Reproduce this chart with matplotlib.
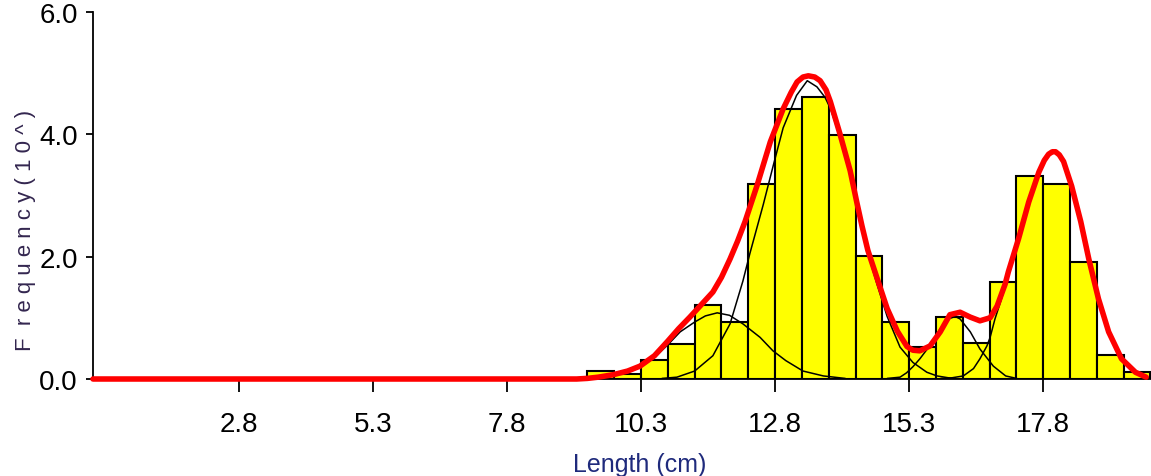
import matplotlib
matplotlib.use("Agg")
import matplotlib.pyplot as plt

# ---- data ----
bin_left = [9.3, 9.8, 10.3, 10.8, 11.3, 11.8, 12.3, 12.8, 13.3, 13.8, 14.3,
            14.8, 15.3, 15.8, 16.3, 16.8, 17.3, 17.8, 18.3, 18.8, 19.3]
bin_height = [0.13, 0.08, 0.31, 0.57, 1.21, 0.93, 3.19, 4.41, 4.60, 3.99, 2.01,
              0.93, 0.52, 1.02, 0.59, 1.59, 3.32, 3.19, 1.91, 0.40, 0.12]
bin_width = 0.5

# fitted total (red)
red_x = [0.08, 9.1, 9.3, 9.5, 9.78, 10.05, 10.28, 10.55, 10.79, 11.0, 11.21,
         11.42, 11.64, 11.8, 11.96, 12.1, 12.24, 12.46, 12.71, 12.95, 13.1,
         13.21, 13.32, 13.42, 13.54, 13.64, 13.75, 13.83, 14.01, 14.2, 14.32,
         14.42, 14.53, 14.7, 14.89, 15.08, 15.26, 15.37, 15.5, 15.69, 15.88,
         16.06, 16.25, 16.44, 16.62, 16.81, 16.94, 17.09, 17.15, 17.34, 17.53,
         17.72, 17.82, 17.9, 17.97, 18.03, 18.1, 18.18, 18.33, 18.5, 18.65,
         18.83, 19.02, 19.26, 19.52, 19.72]
red_y = [0.0, 0.0, 0.01, 0.03, 0.07, 0.13, 0.21, 0.38, 0.61, 0.82, 1.01,
         1.21, 1.42, 1.66, 1.96, 2.25, 2.57, 3.15, 3.87, 4.41, 4.68,
         4.85, 4.93, 4.95, 4.93, 4.87, 4.72, 4.53, 4.0, 3.4, 2.9,
         2.5, 2.1, 1.65, 1.15, 0.78, 0.53, 0.47, 0.46, 0.54, 0.77,
         1.05, 1.09, 1.01, 0.95, 1.0, 1.19, 1.55, 1.75, 2.29, 2.89,
         3.38, 3.57, 3.67, 3.71, 3.71, 3.66, 3.55, 3.15, 2.57, 1.96,
         1.31, 0.77, 0.33, 0.11, 0.03]

# component curves (black)
compA_x = [9.0, 9.3, 9.78, 10.05, 10.28, 10.55, 10.79, 11.03, 11.3, 11.5, 11.72,
           11.95, 12.2, 12.52, 12.76, 13.0, 13.32, 13.7, 14.1]
compA_y = [0.01, 0.02, 0.06, 0.11, 0.19, 0.35, 0.55, 0.77, 0.93, 1.03, 1.08,
           1.04, 0.9, 0.68, 0.46, 0.3, 0.13, 0.05, 0.01]

compB_x = [10.7, 10.97, 11.3, 11.64, 11.96, 12.08, 12.2, 12.33, 12.58, 12.77,
           12.95, 13.2, 13.4, 13.58, 13.73, 13.83, 14.01, 14.2, 14.32, 14.42,
           14.53, 14.7, 14.89, 15.13, 15.37, 15.63, 15.82, 16.1]
compB_y = [0.01, 0.03, 0.13, 0.38, 0.9, 1.25, 1.6, 2.05, 2.85, 3.5,
           4.1, 4.63, 4.87, 4.77, 4.6, 4.42, 3.95, 3.35, 2.85, 2.45,
           2.05, 1.55, 1.02, 0.52, 0.27, 0.11, 0.05, 0.01]

compC_x = [14.9, 15.13, 15.25, 15.37, 15.5, 15.69, 15.88, 16.06, 16.16, 16.25,
           16.44, 16.62, 16.87, 17.1, 17.3]
compC_y = [0.01, 0.03, 0.1, 0.2, 0.33, 0.55, 0.82, 0.99, 1.02, 0.98,
           0.77, 0.49, 0.21, 0.05, 0.01]

compD_x = [15.9, 16.1, 16.31, 16.5, 16.62, 16.75, 16.81, 16.9, 17.0, 17.09,
           17.15, 17.34, 17.53, 17.72, 17.9, 18.03, 18.18, 18.33, 18.5, 18.65,
           18.83, 19.02, 19.26, 19.52, 19.72, 19.8]
compD_y = [0.01, 0.02, 0.05, 0.17, 0.33, 0.54, 0.68, 0.98, 1.25, 1.5,
           1.68, 2.25, 2.86, 3.36, 3.66, 3.7, 3.54, 3.14, 2.56, 1.95,
           1.3, 0.76, 0.32, 0.1, 0.03, 0.02]

x_ticks = [2.8, 5.3, 7.8, 10.3, 12.8, 15.3, 17.8]
x_ticklabels = ["2.8", "5.3", "7.8", "10.3", "12.8", "15.3", "17.8"]
y_ticks = [0.0, 2.0, 4.0, 6.0]
y_ticklabels = ["0.0", "2.0", "4.0", "6.0"]

x_label = "Length (cm)"
y_label = "F  r e q u e n c y ( 1 0 ^ )"

# ---- drawing ----
plt.rcParams['font.family'] = ['Liberation Sans', 'DejaVu Sans']

W, H = 1151, 477
fig = plt.figure(figsize=(W / 100, H / 100), dpi=100)
ax = fig.add_axes([93 / W, 97 / H, (W - 93) / W, (380 - 12.5) / H])

ax.bar(bin_left, bin_height, width=bin_width, align='edge', color='#FFFF00',
       edgecolor='black', linewidth=1.5, zorder=2)

for cx, cy in [(compA_x, compA_y), (compB_x, compB_y),
               (compC_x, compC_y), (compD_x, compD_y)]:
    ax.plot(cx, cy, color='black', linewidth=1.1, zorder=3)

ax.plot(red_x, red_y, color='#FF0000', linewidth=4.0, zorder=4,
        solid_capstyle='round', solid_joinstyle='round', clip_on=False)

ax.set_xlim(0.08, 19.81)
ax.set_ylim(0, 6.0)
ax.set_xticks(x_ticks)
ax.set_xticklabels(x_ticklabels)
ax.set_yticks(y_ticks)
ax.set_yticklabels(y_ticklabels)

for s in ['top', 'right']:
    ax.spines[s].set_visible(False)
for s in ['left', 'bottom']:
    ax.spines[s].set_linewidth(1.3)
    ax.spines[s].set_color('black')

ax.tick_params(axis='x', length=9, width=1.3, pad=14, labelsize=20,
               colors='black')
ax.tick_params(axis='y', length=5, width=1.3, pad=6, labelsize=20,
               colors='black')

fig.text(640 / W, 5 / H, x_label, ha='center', va='baseline', fontsize=18,
         color='#1f2a7c')
fig.text(26 / W, (H - 230) / H, y_label, rotation=90, ha='center',
         va='center', fontsize=16, color='#33264f')

fig.savefig('out.png', dpi=100)
